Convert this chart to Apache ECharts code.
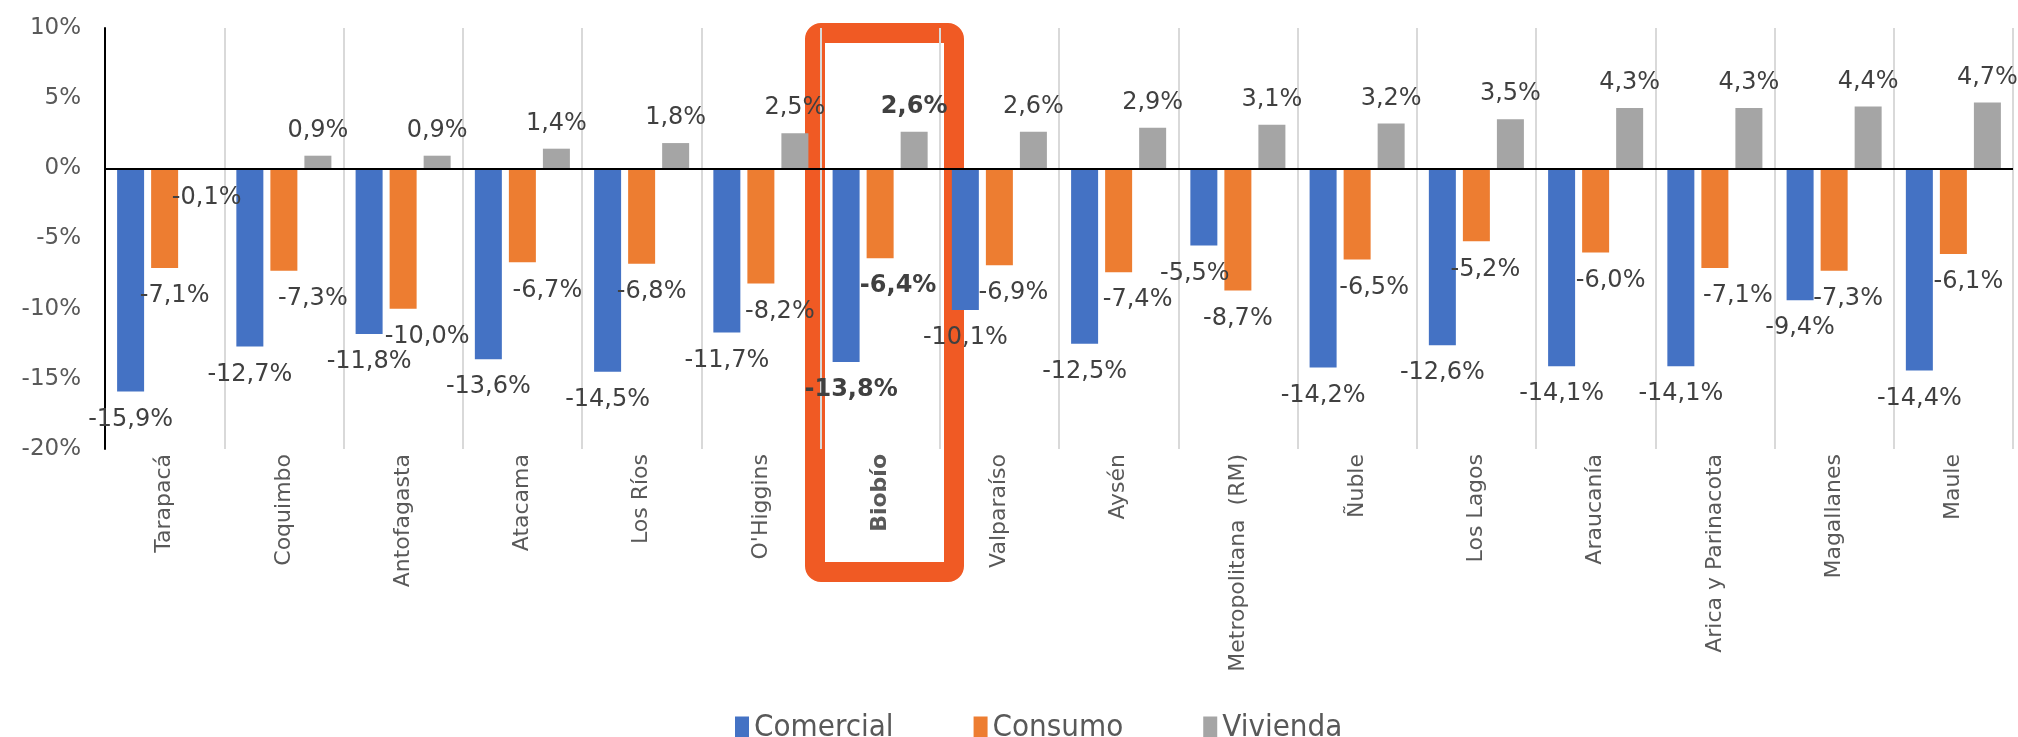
<!DOCTYPE html>
<html>
<head>
<meta charset="utf-8">
<style type="text/css">
html, body { margin: 0; padding: 0; background: #fff; }
#chart { width: 2018px; height: 737px; }
</style>
<script type="text/javascript" src="https://cdn.jsdelivr.net/npm/echarts@6/dist/echarts.min.js"></script>
</head>
<body>
<div id="chart"></div>
<script type="text/javascript">
var regiones = ['Tarapacá', 'Coquimbo', 'Antofagasta', 'Atacama', 'Los Ríos', "O'Higgins",
	'Biobío', 'Valparaíso', 'Aysén', 'Metropolitana  (RM)', 'Ñuble', 'Los Lagos',
	'Araucanía', 'Arica y Parinacota', 'Magallanes', 'Maule'];
var comercial = [-15.9, -12.7, -11.8, -13.6, -14.5, -11.7, -13.8, -10.1, -12.5, -5.5, -14.2, -12.6, -14.1, -14.1, -9.4, -14.4];
var consumo = [-7.1, -7.3, -10.0, -6.7, -6.8, -8.2, -6.4, -6.9, -7.4, -8.7, -6.5, -5.2, -6.0, -7.1, -7.3, -6.1];
var vivienda = [-0.1, 0.9, 0.9, 1.4, 1.8, 2.5, 2.6, 2.6, 2.9, 3.1, 3.2, 3.5, 4.3, 4.3, 4.4, 4.7];
var destacada = 'Biobío';

// corrimiento horizontal (px) de las etiquetas, movidas a mano en el original
var corrComercial = [0, 0, 0, 0, 0, 0, 5, 0, 0, -9, 0, 0, 0, 0, 0, 0];
var corrConsumo = [10, 29, 24, 25, 10, 19, 18, 14, 19, 0, 17, 9, 15, 23, 14, 15];
var corrVivienda = [8, 0, 0, 0, 0, 0, 0, 0, 0, 0, 0, 0, 0, 0, 0, 0];

var FONT = 'DejaVu Sans';
var chart = echarts.init(document.getElementById('chart'));

function pct(v) {
	return v.toFixed(1).replace('.', ',') + '%';
}

// each bar gets its own label side, nudge and weight
function items(arr, corr) {
	return arr.map(function (v, i) {
		return {
			value: v,
			label: {
				distance: v < 0 ? 16 : 13,
				offset: [corr[i], 0],
				fontWeight: regiones[i] === destacada ? 'bold' : 'normal'
			}
		};
	});
}

function serie(name, arr, color, corr) {
	return {
		name: name,
		type: 'bar',
		data: items(arr, corr),
		barWidth: 27,
		barGap: '26%',
		itemStyle: { color: color },
		label: {
			show: true,
			position: 'outside',
			color: '#404040',
			fontFamily: FONT,
			fontSize: 24,
			formatter: function (p) { return pct(p.value); }
		}
	};
}

var series = [
	serie('Comercial', comercial, '#4472C4', corrComercial),
	serie('Consumo', consumo, '#ED7D31', corrConsumo),
	serie('Vivienda', vivienda, '#A5A5A5', corrVivienda)
];
// linea del cero
series[2].markLine = {
	silent: true,
	symbol: 'none',
	label: { show: false },
	lineStyle: { color: '#000', width: 2, type: 'solid' },
	data: [{ yAxis: 0 }]
};

chart.setOption({
	backgroundColor: '#fff',
	animation: false,
	grid: { left: 105, right: 5, top: 28, bottom: 288, outerBoundsMode: 'none' },
	legend: {
		left: 730,
		top: 707,
		icon: 'rect',
		itemWidth: 14,
		itemHeight: 22,
		itemGap: 80,
		textStyle: { fontFamily: 'DejaVu Sans Condensed', fontSize: 31, color: '#595959' },
		data: ['Comercial', 'Consumo', 'Vivienda']
	},
	xAxis: {
		type: 'category',
		data: regiones,
		axisLine: { show: false },
		axisTick: { show: false },
		splitLine: { show: true, interval: 0, lineStyle: { color: '#D9D9D9', width: 2 } },
		axisLabel: {
			interval: 0,
			rotate: 90,
			margin: 5,
			color: '#595959',
			fontFamily: FONT,
			fontSize: 22,
			formatter: function (v) { return v === destacada ? '{b|' + v + '}' : v; },
			rich: { b: { fontWeight: 'bold', fontFamily: FONT, fontSize: 22, color: '#595959' } }
		}
	},
	yAxis: {
		type: 'value',
		min: -20,
		max: 10,
		interval: 5,
		splitLine: { show: false },
		axisLine: { show: true, lineStyle: { color: '#000', width: 2 } },
		axisTick: { show: false },
		axisLabel: {
			margin: 24,
			color: '#595959',
			fontFamily: FONT,
			fontSize: 23,
			formatter: '{value}%'
		}
	},
	graphic: [{
		type: 'rect',
		z: -1,
		silent: true,
		shape: { x: 815, y: 33, width: 139, height: 539, r: 6 },
		style: { fill: null, stroke: '#F05A24', lineWidth: 20 }
	}],
	series: series
});
</script>
</body>
</html>
